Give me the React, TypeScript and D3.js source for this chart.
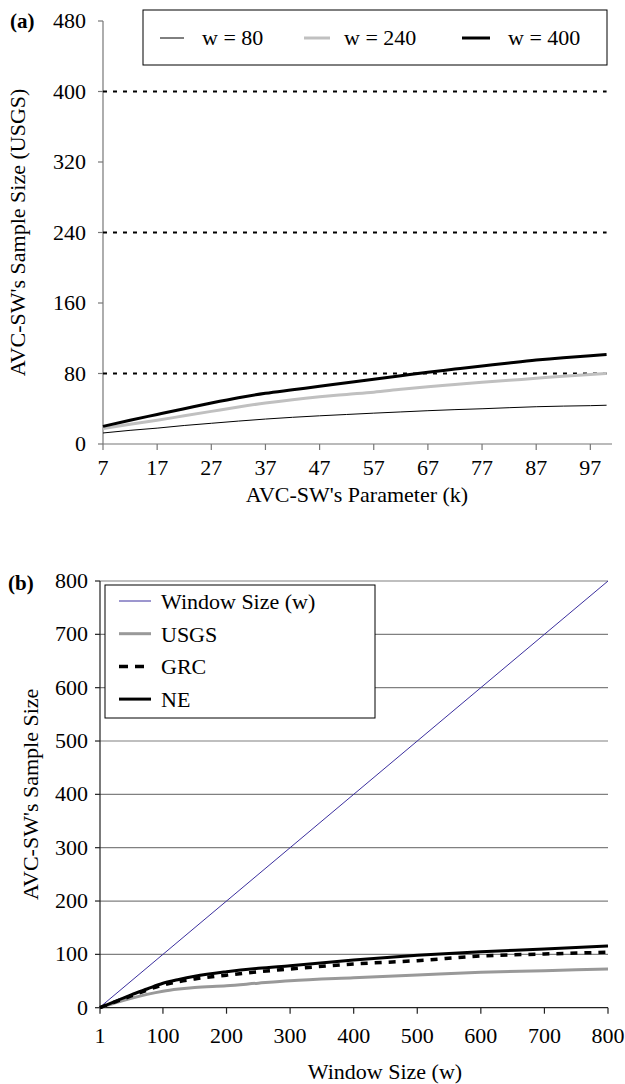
import React from "react";
import * as d3 from "d3";

// ---------- Panel (a) data ----------
const kValues = [7, 12, 17, 22, 27, 32, 37, 42, 47, 52, 57, 62, 67, 72, 77, 82, 87, 92, 97, 100];
const w80 = [12.5, 15.5, 18, 21, 23.5, 26, 28.3, 30.3, 32, 33.5, 35, 36.4, 37.8, 39, 40, 41.2, 42.3, 43, 43.5, 44];
const w240 = [17.5, 22.5, 27, 32, 37, 42, 46.5, 50.3, 53.5, 56.2, 58.8, 62, 65, 67.5, 70, 72.3, 74.5, 77, 79, 80];
const w400 = [20, 27, 33.5, 40, 46.5, 52.5, 57.5, 61.5, 65.5, 69.5, 73.5, 77.5, 81.5, 85, 88.5, 92, 95.3, 98, 100.2, 101.5];
const windowLevels = [80, 240, 400];
const aYTicks = [0, 80, 160, 240, 320, 400, 480];
const aXTicks = [7, 17, 27, 37, 47, 57, 67, 77, 87, 97];
const aLegend = ["w = 80", "w = 240", "w = 400"];

// ---------- Panel (b) data ----------
const wValues = [1, 25, 50, 75, 100, 125, 150, 200, 250, 300, 400, 500, 600, 700, 800];
const usgs = [0, 9, 17.5, 25, 31, 35, 38, 41, 46, 50.7, 56.3, 61.3, 66.4, 69.5, 72.6];
const grc = [0, 11, 22, 33, 42.6, 49, 54, 61, 67.5, 72.6, 82, 88.2, 97, 100.7, 104];
const ne = [0, 12, 24, 35, 45.8, 53, 59, 67.5, 74, 78.8, 89.5, 98.3, 105, 110, 115.7];
const windowLine = [1, 800];
const bYTicks = [0, 100, 200, 300, 400, 500, 600, 700, 800];
const bXTicks = [1, 100, 200, 300, 400, 500, 600, 700, 800];
const bLegend = ["Window Size (w)", "USGS", "GRC", "NE"];

const FONT = "Liberation Serif";

export default function App() {
  // Panel (a) scales
  const xA = d3.scaleLinear().domain([7, 101]).range([103, 612]);
  const yA = d3.scaleLinear().domain([0, 480]).range([444, 21]);
  const lineA = (vals: number[]) =>
    d3
      .line<number>()
      .x((_, i) => xA(kValues[i]))
      .y((v) => yA(v))
      .curve(d3.curveMonotoneX)(vals) as string;
  const levelLine = (lv: number) =>
    d3.line<number>().x((k) => xA(k)).y(() => yA(lv))([7, 100]) as string;

  // Panel (b) scales
  const xB = d3.scaleLinear().domain([1, 800]).range([100, 608]);
  const yB = d3.scaleLinear().domain([0, 800]).range([1007.7, 581]);
  const lineB = (vals: number[]) =>
    d3
      .line<number>()
      .x((_, i) => xB(wValues[i]))
      .y((v) => yB(v))
      .curve(d3.curveMonotoneX)(vals) as string;
  const windowPath = d3
    .line<number>()
    .x((w) => xB(w))
    .y((w) => yB(w))(windowLine) as string;

  const aStyles = [
    { stroke: "#000", w: 1 },
    { stroke: "#c0c0c0", w: 3 },
    { stroke: "#000", w: 3 },
  ];
  const aLegendPos = [
    { x1: 160, x2: 184, tx: 202 },
    { x1: 304, x2: 330, tx: 344 },
    { x1: 462, x2: 490, tx: 508 },
  ];
  const bStyles = [
    { stroke: "#3b2f9e", w: 1, dash: undefined as string | undefined },
    { stroke: "#999999", w: 3, dash: undefined },
    { stroke: "#000", w: 3.5, dash: "7 7" },
    { stroke: "#000", w: 3, dash: undefined },
  ];

  const fs = 22;
  const textStyle = { fontFamily: FONT };

  return (
    <svg
      width={625}
      height={1084}
      style={{ position: "absolute", left: 0, top: 0, background: "#fff", fontFamily: FONT }}
    >
      <rect x={0} y={0} width={625} height={1084} fill="#fff" />

      {/* ================= Panel (a) ================= */}
      <text x={10} y={28} fontSize={21} fontWeight="bold" style={textStyle}>(a)</text>

      {/* axes */}
      <line x1={xA(7)} x2={xA(7)} y1={yA(480)} y2={yA(0)} stroke="#777" strokeWidth={1.2} />
      <line x1={xA(7)} x2={xA(101)} y1={yA(0)} y2={yA(0)} stroke="#777" strokeWidth={1.2} />
      {aYTicks.map((t) => (
        <g key={"ay" + t}>
          <line x1={xA(7) - 5} x2={xA(7)} y1={yA(t)} y2={yA(t)} stroke="#777" strokeWidth={1.2} />
          <text x={86} y={yA(t) + 7} fontSize={fs} textAnchor="end" style={textStyle}>{t}</text>
        </g>
      ))}
      {aXTicks.map((t) => (
        <g key={"ax" + t}>
          <line x1={xA(t)} x2={xA(t)} y1={yA(0)} y2={yA(0) + 6} stroke="#777" strokeWidth={1.2} />
          <text x={xA(t)} y={475} fontSize={fs} textAnchor="middle" style={textStyle}>{t}</text>
        </g>
      ))}

      {/* dotted window-size levels */}
      {windowLevels.map((lv) => (
        <path key={"lv" + lv} d={levelLine(lv)} fill="none" stroke="#000" strokeWidth={2} strokeDasharray="4 6" />
      ))}

      {/* series */}
      {[w80, w240, w400].map((s, i) => (
        <path key={"a" + i} d={lineA(s)} fill="none" stroke={aStyles[i].stroke} strokeWidth={aStyles[i].w} />
      ))}

      {/* legend (a) */}
      <rect x={143} y={10} width={464} height={55} fill="#fff" stroke="#000" strokeWidth={1} />
      {aLegend.map((lab, i) => (
        <g key={"al" + i}>
          <line x1={aLegendPos[i].x1} x2={aLegendPos[i].x2} y1={38} y2={38} stroke={aStyles[i].stroke} strokeWidth={aStyles[i].w} />
          <text x={aLegendPos[i].tx} y={45} fontSize={fs} style={textStyle}>{lab}</text>
        </g>
      ))}

      {/* axis titles (a) */}
      <text x={357} y={502} fontSize={fs} textAnchor="middle" style={textStyle}>AVC-SW's Parameter (k)</text>
      <text transform={`translate(25, ${yA(240)}) rotate(-90)`} fontSize={fs} textAnchor="middle" style={textStyle}>
        AVC-SW's Sample Size (USGS)
      </text>

      {/* ================= Panel (b) ================= */}
      <text x={8} y={590} fontSize={21} fontWeight="bold" style={textStyle}>(b)</text>

      {/* gridlines */}
      {bYTicks.filter((t) => t > 0).map((t) => (
        <line key={"bg" + t} x1={xB(1)} x2={xB(800)} y1={yB(t)} y2={yB(t)} stroke="#808080" strokeWidth={1.2} />
      ))}

      {/* axes */}
      <line x1={xB(1)} x2={xB(1)} y1={yB(800)} y2={yB(0)} stroke="#222" strokeWidth={1.2} />
      <line x1={xB(1)} x2={xB(800)} y1={yB(0)} y2={yB(0)} stroke="#222" strokeWidth={1.2} />
      {bYTicks.map((t) => (
        <g key={"by" + t}>
          <line x1={xB(1) - 5} x2={xB(1)} y1={yB(t)} y2={yB(t)} stroke="#222" strokeWidth={1.2} />
          <text x={88} y={yB(t) + 7} fontSize={fs} textAnchor="end" style={textStyle}>{t}</text>
        </g>
      ))}
      {bXTicks.map((t) => (
        <g key={"bx" + t}>
          <line x1={xB(t)} x2={xB(t)} y1={yB(0)} y2={yB(0) + 6} stroke="#222" strokeWidth={1.2} />
          <text x={xB(t)} y={1043} fontSize={fs} textAnchor="middle" style={textStyle}>{t}</text>
        </g>
      ))}

      {/* series */}
      <path d={windowPath} fill="none" stroke={bStyles[0].stroke} strokeWidth={bStyles[0].w} />
      {[usgs, grc, ne].map((s, i) => (
        <path
          key={"b" + i}
          d={lineB(s)}
          fill="none"
          stroke={bStyles[i + 1].stroke}
          strokeWidth={bStyles[i + 1].w}
          strokeDasharray={bStyles[i + 1].dash}
        />
      ))}

      {/* legend (b) */}
      <rect x={105} y={585} width={270} height={133} fill="#fff" stroke="#000" strokeWidth={1} />
      {bLegend.map((lab, i) => {
        const cy = 601 + i * 32.7;
        return (
          <g key={"bl" + i}>
            <line
              x1={119}
              x2={151}
              y1={cy}
              y2={cy}
              stroke={bStyles[i].stroke}
              strokeWidth={bStyles[i].w}
              strokeDasharray={i === 2 ? "9 7" : undefined}
            />
            <text x={161} y={cy + 8} fontSize={fs} style={textStyle}>{lab}</text>
          </g>
        );
      })}

      {/* axis titles (b) */}
      <text x={385} y={1079} fontSize={fs} textAnchor="middle" style={textStyle}>Window Size (w)</text>
      <text transform={`translate(38, ${yB(400)}) rotate(-90)`} fontSize={fs} textAnchor="middle" style={textStyle}>
        AVC-SW's Sample Size
      </text>
    </svg>
  );
}
